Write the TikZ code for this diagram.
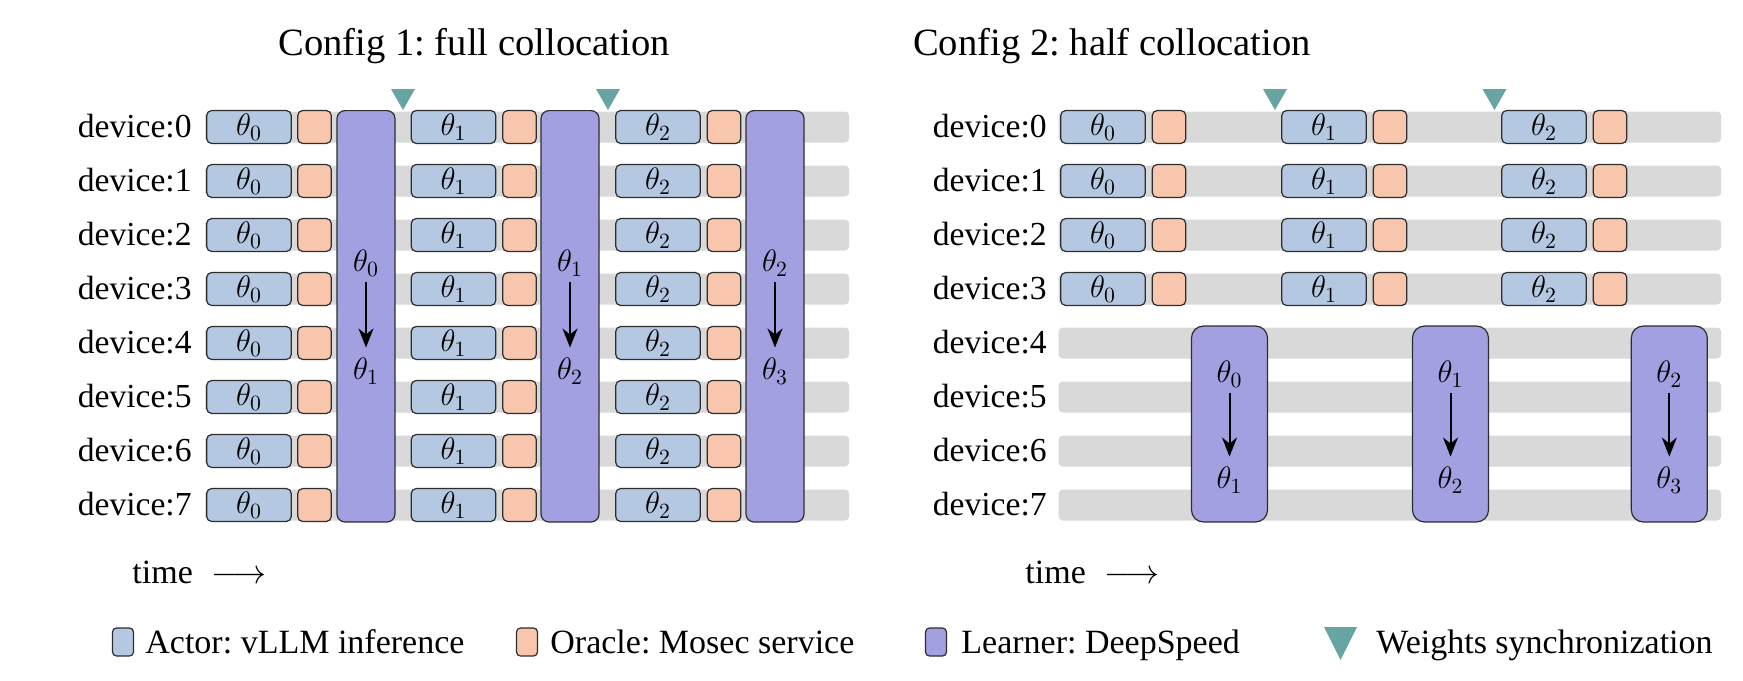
\RequirePackage{fix-cm}
\documentclass[tikz,border=0pt]{standalone}
\usepackage{fontspec}
\setmainfont{Liberation Serif}
\usetikzlibrary{arrows.meta}
\frenchspacing
\definecolor{actorc}{RGB}{180,201,225}
\definecolor{oraclec}{RGB}{247,198,172}
\definecolor{learnc}{RGB}{163,160,226}
\definecolor{syncc}{RGB}{104,164,162}
\definecolor{barc}{RGB}{217,217,217}
\definecolor{edgec}{RGB}{45,45,45}
\newcommand\lblfs{\fontsize{16.8}{20}\selectfont}
\newcommand\legfs{\fontsize{17}{20}\selectfont}
\newcommand\ttlfs{\fontsize{19.3}{23}\selectfont}
\newcommand\thfs{\fontsize{15.5}{18}\selectfont}
\begin{document}
\begin{tikzpicture}[x=0.5pt,y=-0.5pt,
  bar/.style={fill=barc, rounded corners=2pt, inner sep=0pt, minimum height=15.5pt},
  actor/.style={draw=edgec, fill=actorc, line width=0.6pt, rounded corners=2.5pt, inner sep=0pt, minimum width=42.25pt, minimum height=16.5pt, font=\thfs},
  oracle/.style={draw=edgec, fill=oraclec, line width=0.6pt, rounded corners=2.5pt, inner sep=0pt, minimum width=16.75pt, minimum height=16.5pt},
  learner/.style={draw=edgec, fill=learnc, line width=0.6pt, inner sep=0pt},
  th/.style={inner sep=0pt, font=\thfs},
  flow/.style={line width=1pt, -{Stealth[length=9.5pt,width=7.5pt,inset=3pt]}, shorten <=3pt, shorten >=5pt},
  sync/.style={fill=syncc},
  lbl/.style={inner sep=0pt, font=\lblfs},
  leg/.style={inner sep=0pt, font=\legfs},
  ttl/.style={inner sep=0pt, font=\ttlfs},
  legbox/.style={draw=edgec, line width=0.6pt, rounded corners=2pt, inner sep=0pt, minimum width=10.5pt, minimum height=14pt}]
\useasboundingbox (0,0) rectangle (1743,680);
% titles
\node[ttl, anchor=base] (t1) at (474,55) {Config 1: full collocation};
\node[ttl, anchor=base] (t2) at (1112,55) {Config 2: half collocation};
% ---------- Config 1 ----------
\foreach \i in {0,...,7}{
  \pgfmathsetmacro\y{127+54*\i}
  \node[bar, minimum width=322pt] (c1bar\i) at (527,\y) {};
  \node[lbl, anchor=base east] (c1lab\i) at (192,\y+10) {device:\i};
  \node[actor] (c1a0r\i) at (249,\y) {$\theta_0$};
  \node[oracle] (c1o0r\i) at (314.5,\y) {};
  \node[actor] (c1a1r\i) at (453.5,\y) {$\theta_1$};
  \node[oracle] (c1o1r\i) at (519.5,\y) {};
  \node[actor] (c1a2r\i) at (658,\y) {$\theta_2$};
  \node[oracle] (c1o2r\i) at (724,\y) {};
}
\node[learner, rounded corners=4pt, minimum width=29pt, minimum height=205.7pt] (c1l0) at (366,316.3) {};
\node[learner, rounded corners=4pt, minimum width=29pt, minimum height=205.7pt] (c1l1) at (570,316.3) {};
\node[learner, rounded corners=4pt, minimum width=29pt, minimum height=205.7pt] (c1l2) at (775,316.3) {};
\foreach \k/\cx/\n in {0/366/1,1/570/2,2/775/3}{
  \node[th] (c1l\k t) at (\cx,263) {$\theta_\k$};
  \node[th] (c1l\k b) at (\cx,371) {$\theta_\n$};
  \draw[flow] (c1l\k t) -- (c1l\k b);
}
\fill[sync] (391,89) -- (415,89) -- (403,110) -- cycle;
\fill[sync] (596,89) -- (620,89) -- (608,110) -- cycle;
\node[leg, anchor=base west] (c1time) at (132,583) {time};
\node[leg, anchor=base west] (c1arr) at (211,583) {$\longrightarrow$};
% ---------- Config 2 ----------
\foreach \i in {0,...,7}{
  \pgfmathsetmacro\y{127+54*\i}
  \node[bar, minimum width=331.2pt] (c2bar\i) at (1389.8,\y) {};
  \node[lbl, anchor=base east] (c2lab\i) at (1047,\y+10) {device:\i};
}
\foreach \i in {0,...,3}{
  \pgfmathsetmacro\y{127+54*\i}
  \node[actor] (c2a0r\i) at (1103,\y) {$\theta_0$};
  \node[oracle] (c2o0r\i) at (1169,\y) {};
  \node[actor] (c2a1r\i) at (1324,\y) {$\theta_1$};
  \node[oracle] (c2o1r\i) at (1390,\y) {};
  \node[actor] (c2a2r\i) at (1544,\y) {$\theta_2$};
  \node[oracle] (c2o2r\i) at (1610,\y) {};
}
\node[learner, rounded corners=6pt, minimum width=38pt, minimum height=98pt] (c2l0) at (1229.5,424) {};
\node[learner, rounded corners=6pt, minimum width=38pt, minimum height=98pt] (c2l1) at (1450.5,424) {};
\node[learner, rounded corners=6pt, minimum width=38pt, minimum height=98pt] (c2l2) at (1669.3,424) {};
\foreach \k/\cx/\n in {0/1229.5/1,1/1450.5/2,2/1669.3/3}{
  \node[th] (c2l\k t) at (\cx,374) {$\theta_\k$};
  \node[th] (c2l\k b) at (\cx,480) {$\theta_\n$};
  \draw[flow] (c2l\k t) -- (c2l\k b);
}
\fill[sync] (1263,89) -- (1287,89) -- (1275,110) -- cycle;
\fill[sync] (1482.5,89) -- (1506.5,89) -- (1494.5,110) -- cycle;
\node[leg, anchor=base west] (c2time) at (1025,583) {time};
\node[leg, anchor=base west] (c2arr) at (1104,583) {$\longrightarrow$};
% ---------- Legend ----------
\node[legbox, fill=actorc] (lg1) at (123,642) {};
\node[leg, anchor=base west] (lg1t) at (145,653) {Actor: vLLM inference};
\node[legbox, fill=oraclec] (lg2) at (527,642) {};
\node[leg, anchor=base west] (lg2t) at (550,653) {Oracle: Mosec service};
\node[legbox, fill=learnc] (lg3) at (936,642) {};
\node[leg, anchor=base west] (lg3t) at (961,653) {Learner: DeepSpeed};
\fill[sync] (1324,627) -- (1357,627) -- (1340.5,660) -- cycle;
\node[leg, anchor=base west] (lg4t) at (1376,653) {Weights synchronization};
\end{tikzpicture}
\end{document}
